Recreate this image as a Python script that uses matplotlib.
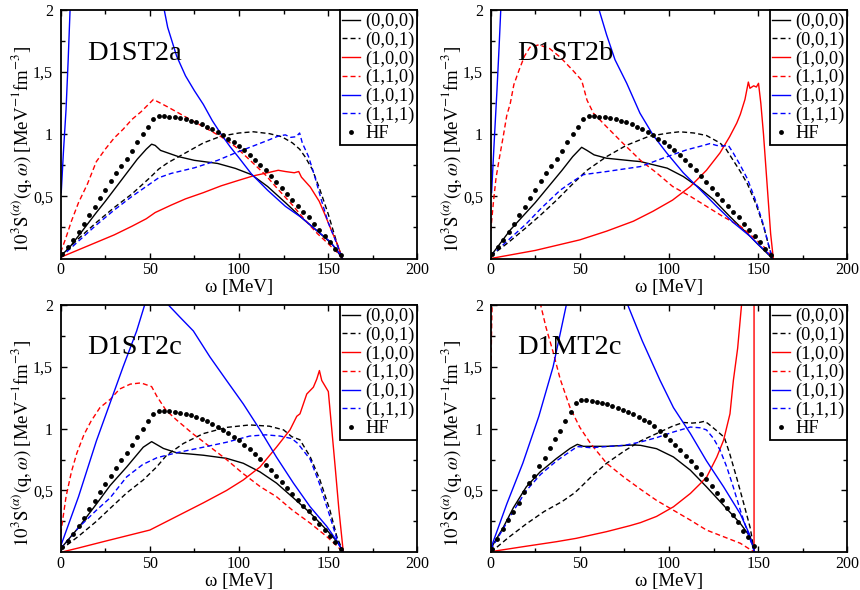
import numpy as np
import matplotlib
matplotlib.use("Agg")
import matplotlib.pyplot as plt

nan = float("nan")

plt.rcParams['font.family'] = ['Liberation Serif', 'DejaVu Serif']
plt.rcParams['mathtext.fontset'] = 'stix'

# ---------------- data ----------------
PANEL_TITLES = ["D1ST2a", "D1ST2b", "D1ST2c", "D1MT2c"]
LEGEND_LABELS = ["(0,0,0)", "(0,0,1)", "(1,0,0)", "(1,1,0)", "(1,0,1)", "(1,1,1)", "HF"]
X_TICKS = [0, 50, 100, 150, 200]
Y_TICKS = [0.5, 1, 1.5, 2]
Y_TICK_LABELS = ["0,5", "1", "1,5", "2"]

# HF (same for D1ST2a/b/c)
HF_W = [1, 4, 7, 10, 13, 16, 19, 22, 25, 28, 31, 34, 37, 40, 43, 46, 49, 52, 55, 58, 61, 64, 67, 70,
        73, 76, 79, 82, 85, 88, 91, 94, 97, 100, 103, 106, 109, 112, 115, 118, 121, 124, 127, 130,
        133, 136, 139, 142, 145, 148, 151, 154, 157]
HF_S = [0.04, 0.09, 0.15, 0.215, 0.28, 0.35, 0.415, 0.485, 0.555, 0.62, 0.685, 0.745, 0.80, 0.865,
        0.935, 1.0, 1.06, 1.12, 1.145, 1.145, 1.14, 1.135, 1.13, 1.12, 1.11, 1.095, 1.08, 1.06, 1.04,
        1.015, 0.99, 0.965, 0.935, 0.905, 0.87, 0.835, 0.795, 0.755, 0.71, 0.665, 0.615, 0.57, 0.52,
        0.47, 0.425, 0.375, 0.33, 0.28, 0.23, 0.18, 0.13, 0.08, 0.03]
# HF for D1MT2c
HFM_W = [0.9, 3.8, 6.8, 9.7, 12.6, 15.6, 18.5, 21.4, 24.3, 27.3, 30.2, 33.1, 36.1, 39.0, 41.9, 44.9,
         47.8, 50.7, 53.6, 56.6, 59.5, 62.4, 65.4, 68.3, 71.2, 74.2, 77.1, 80.0, 82.9, 85.9, 88.8,
         91.7, 94.7, 97.6, 100.5, 103.5, 106.4, 109.3, 112.2, 115.2, 118.1, 121.0, 124.0, 126.9,
         129.8, 132.8, 135.7, 138.6, 141.5, 144.5, 147.4]
HFM_S = [0.03, 0.105, 0.19, 0.26, 0.325, 0.40, 0.485, 0.56, 0.615, 0.695, 0.765, 0.845, 0.92, 0.985,
         1.06, 1.135, 1.205, 1.232, 1.232, 1.224, 1.215, 1.207, 1.197, 1.183, 1.167, 1.15, 1.132,
         1.115, 1.093, 1.072, 1.05, 1.02, 0.985, 0.95, 0.905, 0.865, 0.825, 0.782, 0.742, 0.687,
         0.637, 0.589, 0.537, 0.478, 0.425, 0.358, 0.298, 0.243, 0.175, 0.125, 0.048]

# ---- D1ST2a ----
A000_W = [0, 5, 12, 20, 25, 34, 43, 48, 51, 53, 56, 60, 66, 75, 88, 98, 107, 116, 126, 135, 144, 152, 158]
A000_S = [0.02, 0.09, 0.22, 0.37, 0.46, 0.63, 0.80, 0.88, 0.92, 0.91, 0.87, 0.85, 0.82, 0.79, 0.765,
          0.725, 0.675, 0.58, 0.45, 0.33, 0.22, 0.12, 0.0]
A001_W = [0, 10, 20, 30, 40, 50, 55, 60, 70, 80, 90, 100, 108, 117, 124, 130, 134, 137, 141, 145, 150, 155, 158]
A001_S = [0.02, 0.16, 0.29, 0.41, 0.52, 0.65, 0.72, 0.77, 0.85, 0.93, 0.985, 1.01, 1.02, 1.005, 0.98,
          0.93, 0.88, 0.82, 0.72, 0.57, 0.36, 0.12, 0.0]
A100_W = [0, 10, 20, 30, 40, 48, 53, 62, 70, 80, 90, 100, 108, 116, 122, 126, 131, 133.5, 135, 140,
          145, 148, 152, 155, 158]
A100_S = [0.01, 0.07, 0.13, 0.19, 0.26, 0.32, 0.37, 0.43, 0.48, 0.53, 0.585, 0.63, 0.665, 0.69, 0.71,
          0.70, 0.69, 0.70, 0.655, 0.575, 0.46, 0.36, 0.22, 0.12, 0.0]
A110_W = [0, 3, 6, 10, 15, 20, 25, 30, 35, 40, 45, 52, 60, 70, 80, 90, 98, 107, 115, 122, 130, 137,
          144, 150, 155, 158]
A110_S = [0.05, 0.17, 0.3, 0.45, 0.6, 0.78, 0.88, 0.97, 1.04, 1.12, 1.18, 1.28, 1.22, 1.14, 1.06, 0.98,
          0.9, 0.78, 0.67, 0.555, 0.43, 0.31, 0.2, 0.12, 0.05, 0.0]
A101_W = [0.3, 1.5, 3, 4.2, 5.3, nan, 57.8, 60, 65, 70, 75, 80, 85, 90, 95, 100, 107, 116, 126, 135,
          144, 150, 155, 158]
A101_S = [0.53, 0.85, 1.2, 1.6, 2.02, nan, 2.02, 1.86, 1.63, 1.47, 1.35, 1.24, 1.11, 1.0, 0.9, 0.81,
          0.68, 0.55, 0.42, 0.33, 0.22, 0.15, 0.07, 0.0]
A111_W = [0, 10, 20, 30, 40, 50, 55, 62, 75, 88, 98, 107, 116, 122, 126, 129, 132, 134, 135.5, 139,
          142.5, 146, 150, 154, 158]
A111_S = [0.01, 0.14, 0.27, 0.39, 0.50, 0.60, 0.65, 0.685, 0.73, 0.79, 0.85, 0.90, 0.95, 0.985, 0.995,
          0.975, 0.98, 1.01, 0.93, 0.82, 0.66, 0.48, 0.29, 0.15, 0.0]

# ---- D1ST2b ----
B000_W = [0, 11, 25, 40, 46, 51, 54, 58, 65, 80, 84, 99, 108, 116, 125, 134, 140, 144, 150, 158]
B000_S = [0.02, 0.23, 0.45, 0.71, 0.82, 0.895, 0.87, 0.834, 0.807, 0.785, 0.78, 0.727, 0.66, 0.58,
          0.474, 0.34, 0.255, 0.2, 0.113, 0.0]
B001_W = [0, 10, 20, 28, 37, 46, 54, 65, 76, 89, 100, 106, 114, 121, 128.6, 132, 136, 140, 144, 149,
          153, 156, 158]
B001_S = [0.02, 0.13, 0.25, 0.35, 0.47, 0.6, 0.71, 0.82, 0.91, 0.985, 1.01, 1.02, 1.01, 0.99, 0.93,
          0.88, 0.79, 0.7, 0.6, 0.43, 0.26, 0.1, 0.0]
B100_W = [0, 25, 50, 65, 80, 91, 102, 112, 121, 128.6, 134, 138, 140, 142.6, 144.5, 145.4, 147.5, 149,
          150.2, 151.5, 153, 155, 157, 158.5]
B100_S = [0.0, 0.065, 0.15, 0.22, 0.3, 0.38, 0.47, 0.58, 0.71, 0.85, 0.98, 1.09, 1.16, 1.28, 1.42,
          1.37, 1.39, 1.38, 1.41, 1.25, 1.0, 0.6, 0.2, 0.0]
B110_W = [0, 1.5, 3, 5, 7, 9, 11, 13, 16, 19, 22, 27, 33, 39, 46, 51, 54, 57.6, 65, 74, 84, 93, 102,
          112, 121, 130, 140, 149, 155, 158]
B110_S = [0.22, 0.45, 0.65, 0.82, 0.98, 1.15, 1.25, 1.4, 1.52, 1.63, 1.7, 1.72, 1.69, 1.62, 1.515,
          1.435, 1.275, 1.17, 1.06, 0.93, 0.79, 0.69, 0.58, 0.5, 0.42, 0.34, 0.26, 0.15, 0.07, 0.0]
B101_W = [0.5, 2, 3.5, 4.7, 5.7, nan, 60.4, 65, 69.7, 76.3, 83.7, 91.2, 98.7, 108, 117.4, 126.7, 136,
          145.4, 150, 155, 158]
B101_S = [0.53, 0.95, 1.35, 1.7, 2.02, nan, 2.02, 1.8, 1.6, 1.41, 1.17, 0.99, 0.85, 0.69, 0.555, 0.42,
          0.29, 0.18, 0.113, 0.05, 0.0]
B111_W = [0, 10, 20, 28, 39, 46, 52, 65, 84, 99, 110, 118, 123, 126.7, 130, 133.3, 136, 140, 144, 149,
          153, 156, 158]
B111_S = [0.02, 0.15, 0.28, 0.4, 0.55, 0.62, 0.675, 0.7, 0.74, 0.82, 0.875, 0.905, 0.925, 0.91, 0.905,
          0.91, 0.85, 0.75, 0.64, 0.45, 0.27, 0.1, 0.0]

# ---- D1ST2c ----
C000_W = [0, 10, 20, 27.7, 37, 46.3, 51, 57.6, 65, 80, 93, 102.4, 111.8, 121, 130.5, 139.8, 149.2,
          155.7, 158.5]
C000_S = [0.03, 0.2, 0.39, 0.54, 0.69, 0.85, 0.895, 0.84, 0.805, 0.785, 0.76, 0.72, 0.65, 0.56, 0.44,
          0.32, 0.18, 0.075, 0.0]
C001_W = [0, 10, 20, 27.7, 37, 46.3, 53.8, 59.4, 68.8, 80, 93, 106, 117, 125, 129.6, 134.2, 140, 145.4,
          151, 154.8, 158.5]
C001_S = [0.02, 0.13, 0.25, 0.355, 0.48, 0.585, 0.69, 0.785, 0.88, 0.96, 1.01, 1.03, 1.02, 0.99, 0.935,
          0.91, 0.77, 0.585, 0.34, 0.13, 0.0]
C100_W = [0, 10, 25, 50, 65, 80, 93, 102.4, 111.8, 121, 128.6, 132.4, 134.2, 138, 141.7, 143.6, 145.1,
          146.4, 150.1, 152, 154, 156, 158.5]
C100_S = [0.0, 0.035, 0.09, 0.18, 0.29, 0.4, 0.5, 0.585, 0.69, 0.85, 0.99, 1.1, 1.12, 1.28, 1.335, 1.4,
          1.47, 1.39, 1.3, 1.0, 0.68, 0.35, 0.0]
C110_W = [0, 1, 3, 6, 9, 13, 17, 22, 28, 33, 39, 45, 51, 54, 59, 65, 74, 84, 93, 102, 112, 121, 130,
          140, 149, 155, 158.5]
C110_S = [0.15, 0.25, 0.45, 0.65, 0.8, 0.95, 1.06, 1.17, 1.24, 1.32, 1.36, 1.37, 1.34, 1.26, 1.15, 1.07,
          0.96, 0.85, 0.75, 0.64, 0.53, 0.45, 0.34, 0.235, 0.13, 0.05, 0.0]
C101_W = [0, 10, 20, 28, 35, 42.6, 47.5, 52, 57, 60.4, 67, 74.4, 83.7, 93, 102.4, 111.8, 121, 130.5,
          139.8, 149.2, 155.7, 158.5]
C101_S = [0.05, 0.45, 0.9, 1.22, 1.5, 1.79, 2.02, 2.15, 2.08, 2.0, 1.9, 1.79, 1.58, 1.39, 1.2, 0.99,
          0.77, 0.56, 0.37, 0.21, 0.075, 0.0]
C111_W = [0, 10, 20, 27.7, 37, 46, 54, 65, 80, 93, 106, 115, 123, 129.6, 133, 140, 145, 151, 155.7, 158.5]
C111_S = [0.03, 0.2, 0.34, 0.44, 0.61, 0.71, 0.765, 0.805, 0.85, 0.89, 0.94, 0.95, 0.94, 0.92, 0.88,
          0.75, 0.56, 0.29, 0.07, 0.0]

# ---- D1MT2c ----
D000_W = [0, 7, 12.7, 20, 27.7, 37, 44.5, 48.6, 52, 65, 80, 84, 93, 102.5, 112, 121, 130.6, 140, 145.5, 148]
D000_S = [0.03, 0.2, 0.36, 0.53, 0.65, 0.76, 0.84, 0.873, 0.857, 0.857, 0.868, 0.865, 0.838, 0.771,
          0.664, 0.53, 0.38, 0.233, 0.126, 0.0]
D001_W = [0, 10, 20, 30, 40, 47, 50, 57, 65, 75, 84, 93, 102, 108, 113, 117, 120, 122, 127, 131, 134,
          138, 142, 145.5, 148]
D001_S = [0.0, 0.12, 0.23, 0.33, 0.41, 0.48, 0.52, 0.62, 0.72, 0.82, 0.9, 0.96, 1.02, 1.05, 1.045, 1.05,
          1.06, 1.04, 0.98, 0.93, 0.8, 0.6, 0.39, 0.2, 0.0]
D100_W = [0, 18, 37, 48, 65, 78, 84, 93, 102.5, 112, 117.6, 121.2, 126.8, 130.6, 134.2, 136.1, 138.5,
          140.8, nan, 147.7, 147.7]
D100_S = [0.005, 0.045, 0.086, 0.113, 0.167, 0.215, 0.24, 0.29, 0.368, 0.476, 0.556, 0.61, 0.77, 0.906,
          1.12, 1.39, 1.65, 2.02, nan, 2.05, 0.0]
D110_W = [0.2, 0.8, nan, 27.7, 31, 35, 39, 44.5, 50, 56, 65, 74.5, 84, 93, 102.5, 112, 121, 130.6, 140, 148]
D110_S = [1.55, 2.05, nan, 2.02, 1.82, 1.62, 1.4, 1.17, 1.01, 0.88, 0.72, 0.61, 0.51, 0.42, 0.34, 0.26,
          0.18, 0.126, 0.073, 0.0]
D101_W = [0, 9, 18, 27, 35, 42.7, nan, 76.3, 85, 95, 102.5, 112, 121, 130.6, 140, 145, 148]
D101_S = [0.03, 0.39, 0.72, 1.1, 1.5, 2.02, nan, 2.02, 1.71, 1.39, 1.17, 0.96, 0.74, 0.53, 0.31, 0.15, 0.0]
D111_W = [0, 7, 13, 20, 28, 37, 45, 48.6, 56, 75, 84, 93, 102.5, 112, 117.5, 121, 125, 128.7, 132.4,
          136, 140, 143.7, 148]
D111_S = [0.02, 0.19, 0.34, 0.5, 0.63, 0.74, 0.82, 0.855, 0.846, 0.865, 0.892, 0.927, 0.973, 1.013,
          1.007, 0.99, 0.92, 0.825, 0.69, 0.53, 0.34, 0.18, 0.0]

# ---------------- styles ----------------
STYLES = [("black", "-"), ("black", "--"), ("red", "-"), ("red", "--"), ("blue", "-"), ("blue", "--")]
DASH = (3.6, 2.2)

panels = [
    (PANEL_TITLES[0], [(A000_W, A000_S), (A001_W, A001_S), (A100_W, A100_S), (A110_W, A110_S),
                       (A101_W, A101_S), (A111_W, A111_S)], (HF_W, HF_S)),
    (PANEL_TITLES[1], [(B000_W, B000_S), (B001_W, B001_S), (B100_W, B100_S), (B110_W, B110_S),
                       (B101_W, B101_S), (B111_W, B111_S)], (HF_W, HF_S)),
    (PANEL_TITLES[2], [(C000_W, C000_S), (C001_W, C001_S), (C100_W, C100_S), (C110_W, C110_S),
                       (C101_W, C101_S), (C111_W, C111_S)], (HF_W, HF_S)),
    (PANEL_TITLES[3], [(D000_W, D000_S), (D001_W, D001_S), (D100_W, D100_S), (D110_W, D110_S),
                       (D101_W, D101_S), (D111_W, D111_S)], (HFM_W, HFM_S)),
]

fig = plt.figure(figsize=(8.6, 5.9), dpi=100)
W, H = 860.0, 590.0
ax_w = (417.3 - 60.7) / W
boxes = [
    (60.7 / W, 1 - 258.5 / H, ax_w, 248.5 / H),
    (490.7 / W, 1 - 258.5 / H, ax_w, 248.5 / H),
    (60.7 / W, 1 - 552.3 / H, ax_w, 247.3 / H),
    (490.7 / W, 1 - 552.3 / H, ax_w, 247.3 / H),
]

for (title, series, hf), box in zip(panels, boxes):
    ax = fig.add_axes(box)
    handles = []
    for (w, s), (col, ls) in zip(series, STYLES):
        line, = ax.plot(np.array(w, dtype=float), np.array(s, dtype=float), color=col, lw=1.0,
                        linestyle=ls)
        if ls == "--":
            line.set_dashes(DASH)
        handles.append(line)
    hfl, = ax.plot(hf[0], hf[1], linestyle="none", marker="o", ms=3.5, color="black",
                   markeredgewidth=0)
    handles.append(hfl)

    ax.set_xlim(0, 200)
    ax.set_ylim(0, 2)
    ax.set_xticks(X_TICKS)
    ax.set_xticks([25, 75, 125, 175], minor=True)
    ax.set_yticks(Y_TICKS)
    ax.set_yticklabels(Y_TICK_LABELS)
    ax.set_yticks([0.25, 0.75, 1.25, 1.75], minor=True)
    ax.tick_params(which="both", direction="in", top=True, right=True, width=1.0)
    ax.tick_params(which="major", length=4.5)
    ax.tick_params(which="minor", length=2.8)
    ax.tick_params(axis="x", labelsize=11.5, pad=2.5)
    ax.tick_params(axis="y", labelsize=11.5, pad=5.5)
    for sp in ax.spines.values():
        sp.set_linewidth(1.3)

    ax.set_xlabel("ω [MeV]", fontsize=13.5)
    ax.xaxis.set_label_coords(0.5, -0.083)
    ax.set_ylabel(r"$10^3\mathrm{S}^{(\alpha)}(\mathrm{q},\omega)$ [MeV$^{-1}$fm$^{-3}$]", fontsize=13.5)
    ax.yaxis.set_label_coords(-0.075, 0.44)

    ax.text(0.074, 0.80, title, transform=ax.transAxes, fontsize=20.5, ha="left", va="baseline")

    leg = ax.legend(handles, LEGEND_LABELS, loc="upper right", fontsize=13.2, frameon=True,
                    fancybox=False, borderaxespad=0.0, borderpad=0.15, labelspacing=0.08,
                    handlelength=0.95, handletextpad=0.3, numpoints=1, framealpha=1.0)
    leg.get_frame().set_edgecolor("black")
    leg.get_frame().set_linewidth(1.3)

fig.savefig("out.png", dpi=100)
